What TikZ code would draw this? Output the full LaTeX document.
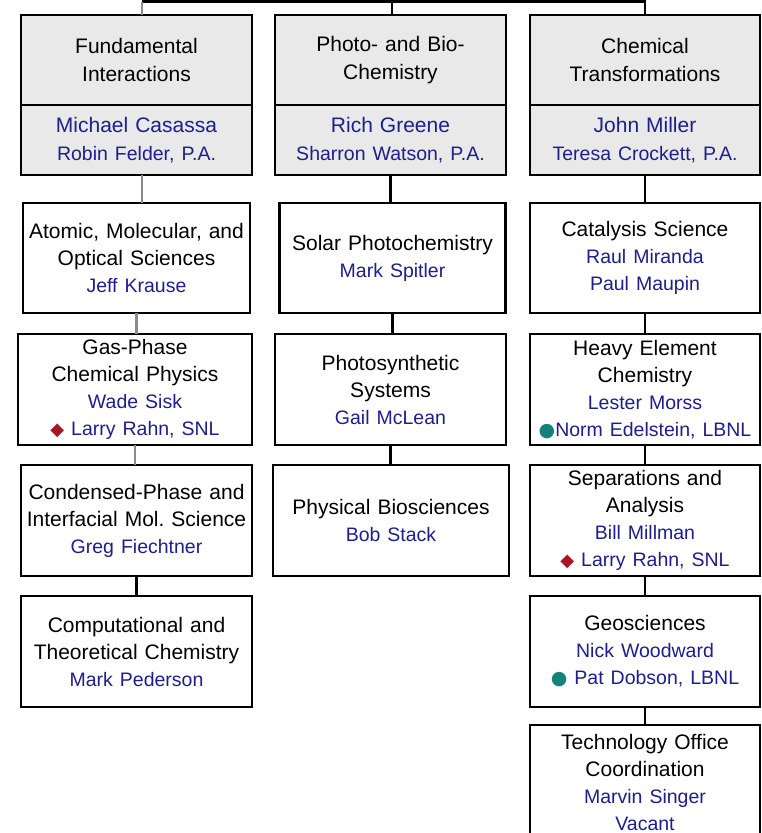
\documentclass[tikz,border=0pt]{standalone}
\usepackage{fontspec}
\setmainfont{Liberation Sans}
\newfontfamily\symfont{DejaVu Sans}
\usetikzlibrary{positioning}
\definecolor{nameblue}{RGB}{30,30,140}
\definecolor{hdrgray}{RGB}{233,233,233}
\definecolor{linkgray}{RGB}{140,140,140}
\definecolor{snlred}{RGB}{170,20,40}
\definecolor{lbnlteal}{RGB}{20,130,120}
\newcommand{\who}[1]{{\fontsize{19.5}{27}\selectfont\color{nameblue}#1}}
\newcommand{\snl}{{\symfont\fontsize{18}{18}\selectfont\color{snlred}◆}}
\newcommand{\lbnl}{{\symfont\fontsize{19}{19}\selectfont\color{lbnlteal}●}}
\frenchspacing

\begin{document}
\begin{tikzpicture}[x=1pt, y=-1pt,
  hbox/.style={draw, line width=2.2pt, fill=hdrgray, inner sep=0pt, outer sep=0pt, minimum width=231pt, text width=226pt, align=center, font=\fontsize{21}{28}\selectfont},
  ubox/.style={draw, line width=2.2pt, fill=white, inner sep=0pt, outer sep=0pt, minimum height=111pt, text width=226pt, align=center, font=\fontsize{21}{27}\selectfont},
  link/.style={line width=2.2pt},
  glink/.style={link, draw=linkgray}
]
  \useasboundingbox (0,0) rectangle (761,833);
  \clip (0,0) rectangle (761,833);

  % division headers
  \node[hbox, minimum height=90pt] (fund) at (136.5,60) {Fundamental\\Interactions};
  \node[hbox, minimum height=70pt, below=0pt of fund] (fund-lead) {{\color{nameblue}Michael Casassa}\\\who{Robin Felder, P.A.}};
  \node[hbox, minimum height=90pt] (photo) at (390.5,60) {Photo- and Bio-\\Chemistry};
  \node[hbox, minimum height=70pt, below=0pt of photo] (photo-lead) {{\color{nameblue}Rich Greene}\\\who{Sharron Watson, P.A.}};
  \node[hbox, minimum width=230pt, minimum height=90pt] (chem) at (645,60) {Chemical\\Transformations};
  \node[hbox, minimum width=230pt, minimum height=70pt, below=0pt of chem] (chem-lead) {{\color{nameblue}John Miller}\\\who{Teresa Crockett, P.A.}};

  % left column
  \node[ubox, minimum width=227pt, minimum height=110pt] (amo) at (136.5,258) {Atomic, Molecular, and\\Optical Sciences\\\who{Jeff Krause}};
  \node[ubox, minimum width=234pt] (gas) at (135,389.5) {Gas-Phase\\Chemical Physics\\\who{Wade Sisk}\\\who{\snl\ Larry Rahn, SNL}};
  \node[ubox, minimum width=231pt] (cond) at (136.5,520.5) {Condensed-Phase and\\Interfacial Mol. Science\\\who{Greg Fiechtner}};
  \node[ubox, minimum width=231pt] (comp) at (136.5,651.5) {Computational and\\Theoretical Chemistry\\\who{Mark Pederson}};

  % middle column
  \node[ubox, minimum width=223pt, minimum height=110pt] (solar) at (392.5,258) {Solar Photochemistry\\\who{Mark Spitler}};
  \node[ubox, minimum width=231pt] (photosyn) at (390.5,389.5) {Photosynthetic\\Systems\\\who{Gail McLean}};
  \node[ubox, minimum width=236pt] (bio) at (391,520.5) {Physical Biosciences\\\who{Bob Stack}};

  % right column
  \node[ubox, minimum width=230pt, minimum height=110pt] (cat) at (645,258) {Catalysis Science\\\who{Raul Miranda}\\\who{Paul Maupin}};
  \node[ubox, minimum width=230pt] (heavy) at (645,389.5) {Heavy Element\\Chemistry\\\who{Lester Morss}\\\who{\lbnl Norm Edelstein, LBNL}};
  \node[ubox, minimum width=230pt] (sep) at (645,520.5) {Separations and\\Analysis\\\who{Bill Millman}\\\who{\snl\ Larry Rahn, SNL}};
  \node[ubox, minimum width=230pt] (geo) at (645,651.5) {Geosciences\\\who{Nick Woodward}\\\who{\lbnl\ Pat Dobson, LBNL}};
  \node[ubox, minimum width=230pt, minimum height=114pt] (tech) at (645,782) {Technology Office\\Coordination\\\who{Marvin Singer}\\\who{Vacant}};

  % connectors
  \coordinate (boss) at (392,-20);
  \coordinate (bus) at (392,1.5);
  \coordinate (fund-top) at ([xshift=5.5pt]fund.north);
  \draw[link] (boss) -- (boss |- photo.north);
  \draw[link] (fund-top |- bus) -| (chem.north);
  \draw[glink] (fund-top |- bus) -- (fund-top);
  \draw[glink] (fund-top |- fund-lead.south) -- (fund-top |- amo.north);
  \draw[glink] (amo.south) -- (amo.south |- gas.north);
  \draw[glink] (gas.south) -- (gas.south |- cond.north);
  \draw[link] (cond.south) -- (cond.south |- comp.north);
  \draw[link] (photo-lead.south) -- (photo-lead.south |- solar.north);
  \draw[link] (solar.south) -- (solar.south |- photosyn.north);
  \draw[link] (photosyn.south) -- (photosyn.south |- bio.north);
  \foreach \a/\b in {chem-lead/cat, cat/heavy, heavy/sep, sep/geo, geo/tech}
    \draw[link] (\a.south) -- (\b.north);
\end{tikzpicture}
\end{document}
